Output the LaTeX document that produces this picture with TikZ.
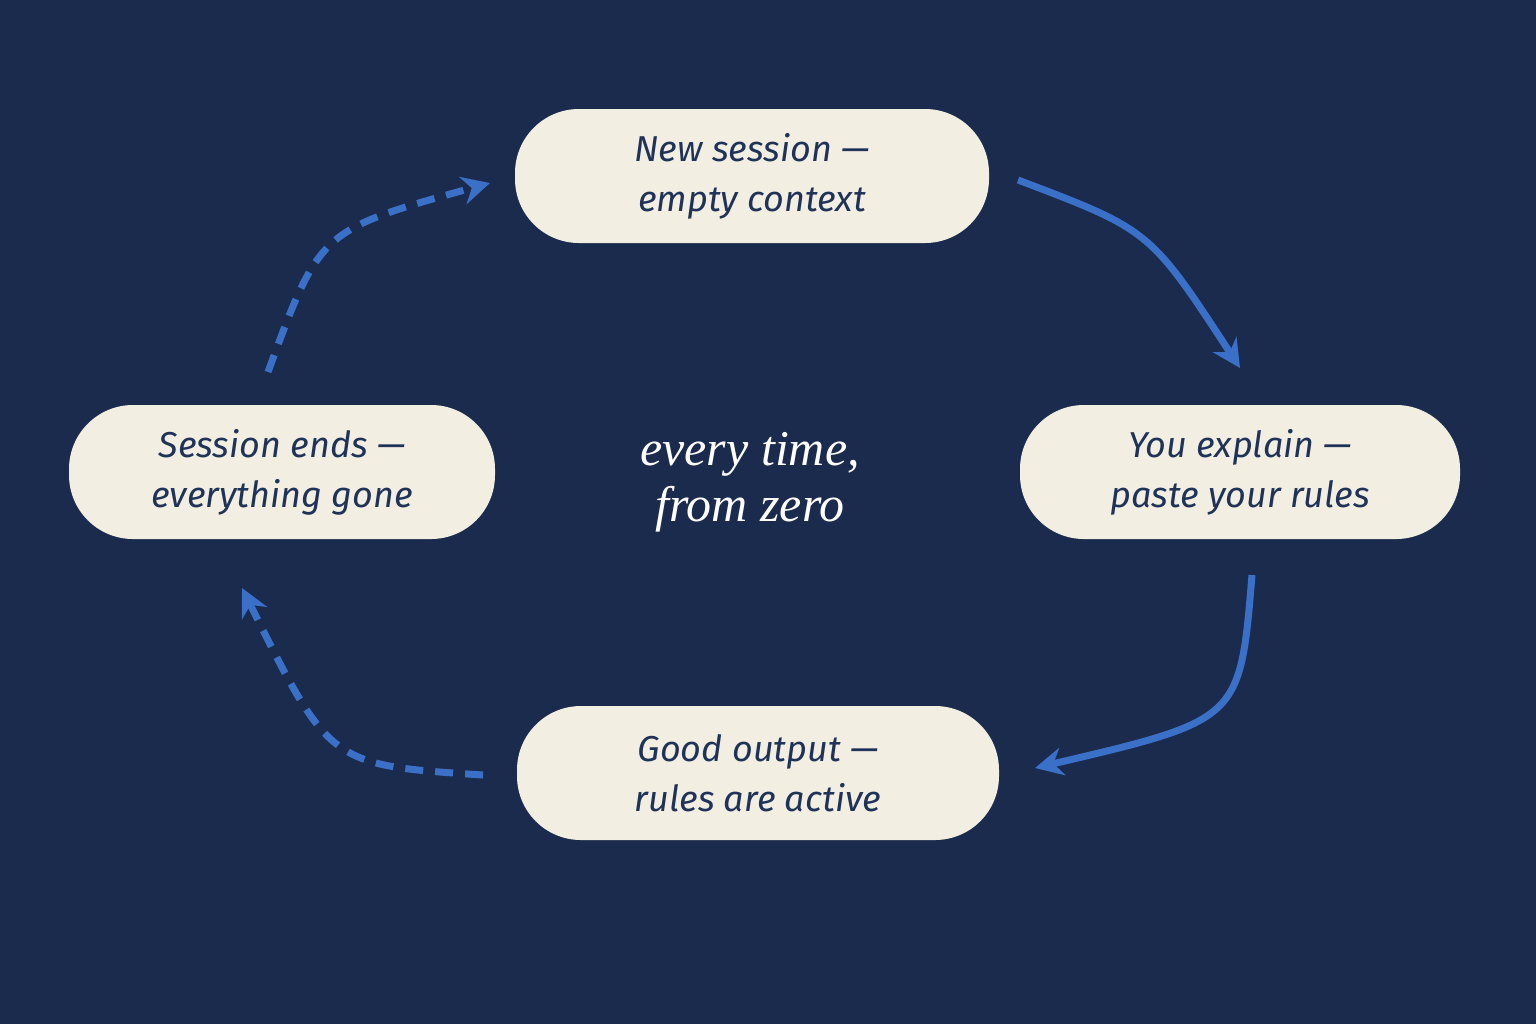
\documentclass[tikz,border=0pt]{standalone}
\usepackage{fontspec}
\setmainfont{Fira Sans}
\newfontfamily\serifit{Liberation Serif}
\usetikzlibrary{arrows.meta}
\definecolor{bg}{HTML}{1B2B4D}
\definecolor{pill}{HTML}{F3EEE2}
\definecolor{ink}{HTML}{1F3358}
\definecolor{arr}{HTML}{3A70C8}
\begin{document}
\begin{tikzpicture}[x=0.5pt,y=-0.5pt,
  box/.style={fill=pill,rounded corners=32pt,minimum height=67pt,align=center,text=ink,font=\fontsize{18}{25}\selectfont\itshape,inner sep=0pt},
  con/.style={draw=arr,line width=3.5pt,-{Stealth[length=14pt,width=14pt]}},
  dsh/.style={con,dash pattern=on 9pt off 6pt}]
\fill[bg] (0,0) rectangle (1536,1024);
\useasboundingbox (0,0) rectangle (1536,1024);
\node[box,minimum width=237pt] (top) at (752,176) {New session —\\empty context};
\node[box,minimum width=220pt] (right) at (1240,472) {You explain —\\paste your rules};
\node[box,minimum width=241pt] (bot) at (758,773) {Good output —\\rules are active};
\node[box,minimum width=213pt] (left) at (282,472) {Session ends —\\everything gone};
\node[text=white,align=center,font=\fontsize{25}{28}\selectfont\serifit\itshape] (mid) at (750,482) {every time,\\from zero};
\coordinate (a1) at (1018,180); \coordinate (a2) at (1240,368);
\coordinate (b1) at (1252,575); \coordinate (b2) at (1035,768);
\coordinate (c1) at (483,775); \coordinate (c2) at (242,588);
\coordinate (d1) at (268,372); \coordinate (d2) at (490,183);
\draw[con] (a1) .. controls (1150,230) .. (a2);
\draw[con] (b1) .. controls (1240,720) .. (b2);
\draw[dsh] (c1) .. controls (330,765) .. (c2);
\draw[dsh] (d1) .. controls (320,230) .. (d2);
\end{tikzpicture}
\end{document}
